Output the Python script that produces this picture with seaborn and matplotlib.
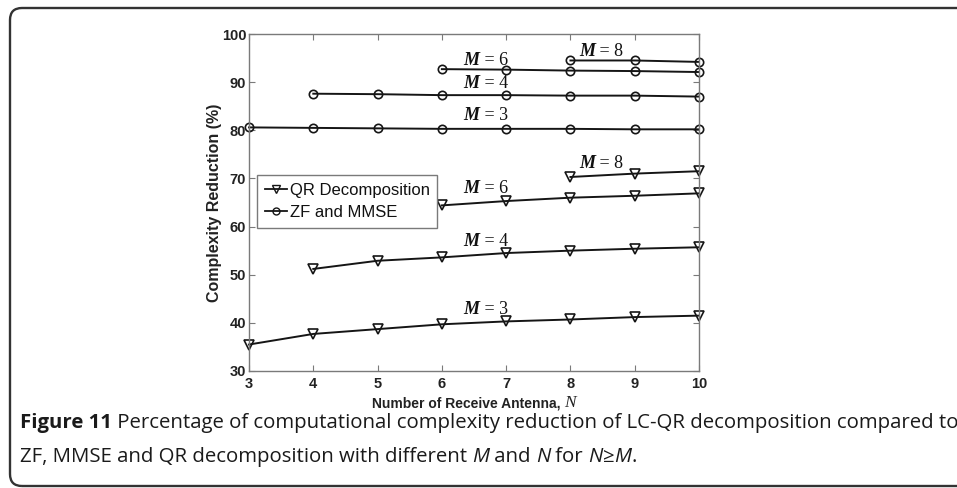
import numpy as np
import pandas as pd
import matplotlib
matplotlib.use("Agg")
import matplotlib.pyplot as plt
import seaborn as sns
from matplotlib.lines import Line2D
from matplotlib.patches import FancyBboxPatch
from matplotlib.transforms import IdentityTransform

# ---------------- data ----------------
n_all = [3, 4, 5, 6, 7, 8, 9, 10]

zf_m3 = [80.6, 80.5, 80.4, 80.3, 80.3, 80.3, 80.2, 80.2]
zf_m4 = [87.6, 87.5, 87.3, 87.3, 87.2, 87.2, 87.0]
zf_m6 = [92.7, 92.6, 92.4, 92.3, 92.1]
zf_m8 = [94.5, 94.5, 94.2]

qr_m3 = [35.5, 37.7, 38.7, 39.7, 40.3, 40.7, 41.2, 41.5]
qr_m4 = [51.2, 52.9, 53.6, 54.5, 55.0, 55.4, 55.7]
qr_m6 = [64.4, 65.3, 66.0, 66.4, 66.9]
qr_m8 = [70.3, 71.0, 71.5]

m_values = [3, 4, 6, 8]
legend_labels = ["QR Decomposition", "ZF and MMSE"]
x_label = "Number of Receive Antenna, "
y_label = "Complexity Reduction (%)"
x_ticks = [3, 4, 5, 6, 7, 8, 9, 10]
y_ticks = [30, 40, 50, 60, 70, 80, 90, 100]

# label anchor positions (N, value) for "M = k" annotations
zf_label_pos = {3: (6.34, 82.1), 4: (6.34, 88.7), 6: (6.34, 93.6), 8: (8.13, 95.4)}
qr_label_pos = {3: (6.34, 41.8), 4: (6.34, 56.0), 6: (6.34, 67.0), 8: (8.13, 72.1)}

rows = []
for m, vals in zip(m_values, [zf_m3, zf_m4, zf_m6, zf_m8]):
    ns = [n for n in n_all if n >= m]
    for n, v in zip(ns, vals):
        rows.append(dict(N=n, val=v, M=m, method="ZF"))
for m, vals in zip(m_values, [qr_m3, qr_m4, qr_m6, qr_m8]):
    ns = [n for n in n_all if n >= m]
    for n, v in zip(ns, vals):
        rows.append(dict(N=n, val=v, M=m, method="QR"))
df = pd.DataFrame(rows)

# ---------------- figure ----------------
W, H = 957, 488
fig = plt.figure(figsize=(W / 100, H / 100), dpi=100)
L, R, T, B = 249, 699, 34, 371
ax = fig.add_axes([L / W, 1 - B / H, (R - L) / W, (B - T) / H])

line_col = "#151515"
spine_col = "#7a7a7a"
text_col = "#222222"
tick_font = ["Liberation Sans Narrow", "Liberation Sans"]

markers = {"ZF": "o", "QR": "v"}
msize = {"ZF": 6.0, "QR": 7.0}
for (method, m), g in df.groupby(["method", "M"]):
    sns.lineplot(data=g, x="N", y="val", ax=ax, color=line_col, lw=1.4,
                 marker=markers[method], markersize=msize[method],
                 markerfacecolor="none", markeredgecolor=line_col,
                 markeredgewidth=1.2, legend=False, estimator=None)
for ln in ax.lines:
    ln.set_clip_on(False)

ax.set_xlim(3, 10)
ax.set_ylim(30, 100)
ax.set_xticks(x_ticks)
ax.set_yticks(y_ticks)
ax.tick_params(direction="in", length=4, width=0.8, color=spine_col,
               top=True, right=True, labelsize=10.5)
ax.tick_params(axis="y", pad=2)
ax.tick_params(axis="x", pad=4)
for lab in ax.get_xticklabels() + ax.get_yticklabels():
    lab.set_family(tick_font)
    lab.set_weight("bold")
    lab.set_color(text_col)
for s in ax.spines.values():
    s.set_color(spine_col)
    s.set_linewidth(1.0)

ax.set_xlabel("")
ax.set_ylabel(y_label, family=tick_font, weight="bold", fontsize=11.5,
              color=text_col, labelpad=0)

# M = k annotations
def m_label(x, y, k):
    t = ax.text(x, y, "M", family="Liberation Serif", weight="bold",
                style="italic", fontsize=13, color="#111111",
                ha="left", va="baseline")
    ax.annotate(" = %d" % k, xy=(1, 0), xycoords=t, xytext=(0, 0),
                textcoords="offset points", ha="left", va="bottom",
                family="Liberation Serif", fontsize=13, color="#111111")

for k, (x, y) in zf_label_pos.items():
    m_label(x, y, k)
for k, (x, y) in qr_label_pos.items():
    m_label(x, y, k)

# legend
handles = [
    Line2D([], [], color=line_col, lw=1.3, marker="v", markersize=6,
           markerfacecolor="none", markeredgecolor=line_col, markeredgewidth=1.0),
    Line2D([], [], color=line_col, lw=1.3, marker="o", markersize=5,
           markerfacecolor="none", markeredgecolor=line_col, markeredgewidth=1.0),
]
leg = ax.legend(handles, legend_labels, loc="upper left",
                bbox_to_anchor=((257 - L) / (R - L), (B - 175) / (B - T)),
                borderaxespad=0, fancybox=False, framealpha=1,
                edgecolor=spine_col, handlelength=1.35, handletextpad=0.15,
                borderpad=0.45, labelspacing=0.45,
                prop=dict(family="Liberation Sans", size=12))
leg.get_frame().set_linewidth(1.0)
for t in leg.get_texts():
    t.set_color("#111111")

# ---------------- figure border ----------------
box = FancyBboxPatch((0.10 + 0.1, 0.02 + 0.1), 10.0, 4.80 - 0.02 - 0.2,
                     boxstyle="round,pad=0.1,rounding_size=0.12",
                     transform=fig.dpi_scale_trans, fill=False,
                     edgecolor="#333333", lw=1.7, clip_on=False)
fig.patches.append(box)

fig.canvas.draw()
renderer = fig.canvas.get_renderer()

# x label with italic serif N, centred as a whole under the axes
xl_kw = dict(family=tick_font, weight="bold", fontsize=10, color=text_col)
n_kw = dict(family="Liberation Serif", style="italic", fontsize=12.5, color=text_col)
tmp1 = fig.text(0, 0, x_label, **xl_kw)
tmp2 = fig.text(0, 0, "N", **n_kw)
w1 = tmp1.get_window_extent(renderer).width
w2 = tmp2.get_window_extent(renderer).width
tmp1.remove(); tmp2.remove()
cx = (L + R) / 2
x0 = cx - (w1 + w2) / 2
yb = H - 407
fig.text(x0, yb, x_label, transform=IdentityTransform(), ha="left",
         va="baseline", **xl_kw)
fig.text(x0 + w1, yb, "N", transform=IdentityTransform(), ha="left",
         va="baseline", **n_kw)

# ---------------- caption ----------------
cap_font = "Open Sans"

line1 = [("Figure 11", "bold", "normal"),
         (" Percentage of computational complexity reduction of LC-QR decomposition compared to", "normal", "normal")]
line2 = [("ZF, MMSE and QR decomposition with different ", "normal", "normal"),
         ("M", "normal", "italic"), (" and ", "normal", "normal"),
         ("N", "normal", "italic"), (" for ", "normal", "normal"),
         ("N", "normal", "italic"), ("\u2265", "normal", "normal"),
         ("M", "normal", "italic"), (".", "normal", "normal")]

def measure(runs, size):
    w = 0
    for txt, wt, st in runs:
        t = fig.text(0, 0, txt, family=cap_font, weight=wt, style=st, fontsize=size)
        w += t.get_window_extent(renderer).width
        t.remove()
    return w

base = 12.0
target = 952 - 20
size = base * target / measure(line1, base)

def draw(runs, x, y, size):
    for txt, wt, st in runs:
        t = fig.text(x, y, txt, family=cap_font, weight=wt, style=st,
                     fontsize=size, color="#1a1a1a", transform=IdentityTransform(),
                     va="baseline", ha="left")
        x += t.get_window_extent(renderer).width

draw(line1, 20, H - 428, size)
draw(line2, 20, H - 462, size)

fig.savefig("out.png", dpi=100)
